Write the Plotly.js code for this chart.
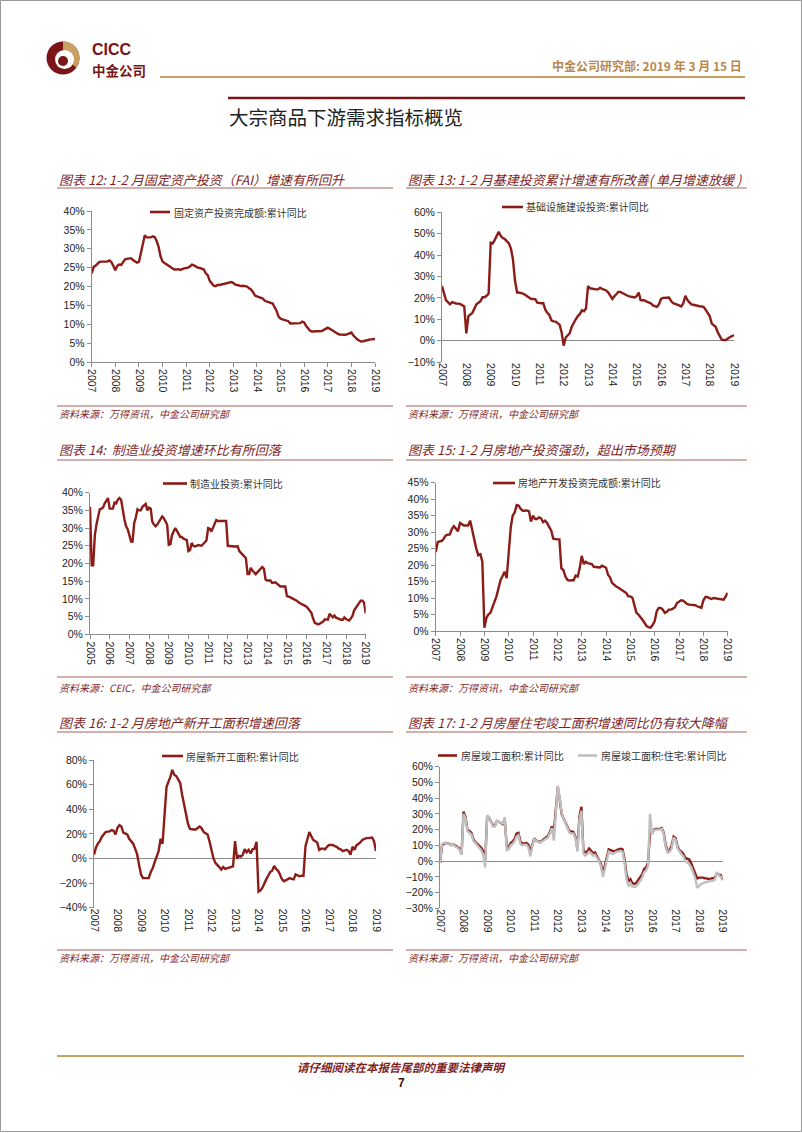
<!DOCTYPE html>
<html><head><meta charset="utf-8">
<script src="https://cdn.plot.ly/plotly-3.0.1.min.js"></script>
<style>html,body{margin:0;padding:0;background:#fff;}#page{width:802px;height:1133px;}</style>
</head><body><div id="page"></div>
<script>
// ---------- tick labels ----------
const years2007 = ['2007','2008','2009','2010','2011','2012','2013','2014','2015','2016','2017','2018','2019'];
const years2005 = ['2005','2006'].concat(years2007);

// ---------- 图表12 固定资产投资完成额:累计同比 ----------
const faiDates = ['2007-01','2007-02','2007-03','2007-04','2007-05','2007-06','2007-07','2007-08','2007-09','2007-10','2007-11','2007-12',
'2008-01','2008-02','2008-03','2008-04','2008-05','2008-06','2008-07','2008-08','2008-09','2008-10','2008-11','2008-12',
'2009-01','2009-02','2009-03','2009-04','2009-05','2009-06','2009-07','2009-08','2009-09','2009-10','2009-11','2009-12',
'2010-01','2010-02','2010-03','2010-04','2010-05','2010-06','2010-07','2010-08','2010-09','2010-10','2010-11','2010-12',
'2011-01','2011-02','2011-03','2011-04','2011-05','2011-06','2011-07','2011-08','2011-09','2011-10','2011-11','2011-12',
'2012-01','2012-02','2012-03','2012-04','2012-05','2012-06','2012-07','2012-08','2012-09','2012-10','2012-11','2012-12',
'2013-01','2013-02','2013-03','2013-04','2013-05','2013-06','2013-07','2013-08','2013-09','2013-10','2013-11','2013-12',
'2014-01','2014-02','2014-03','2014-04','2014-05','2014-06','2014-07','2014-08','2014-09','2014-10','2014-11','2014-12',
'2015-01','2015-02','2015-03','2015-04','2015-05','2015-06','2015-07','2015-08','2015-09','2015-10','2015-11','2015-12',
'2016-01','2016-02','2016-03','2016-04','2016-05','2016-06','2016-07','2016-08','2016-09','2016-10','2016-11','2016-12',
'2017-01','2017-02','2017-03','2017-04','2017-05','2017-06','2017-07','2017-08','2017-09','2017-10','2017-11','2017-12',
'2018-01','2018-02','2018-03','2018-04','2018-05','2018-06','2018-07','2018-08','2018-09','2018-10','2018-11','2018-12',
'2019-01'];
const faiValues = [23.5,25.2,25.5,26.0,26.5,26.6,26.6,26.6,26.6,26.9,26.5,25.5,
24.3,25.5,25.8,25.7,26.5,27.2,27.3,27.5,27.5,27.0,26.7,26.3,
26.5,28.8,30.5,33.6,33.0,32.9,33.0,33.3,33.1,32.1,30.5,28.0,
26.6,26.2,25.9,25.5,25.3,24.9,24.5,24.5,24.6,24.4,24.7,24.8,
24.9,25.0,25.3,25.8,25.6,25.2,25.0,24.9,24.8,24.5,23.5,23.0,
21.5,20.9,20.2,20.1,20.4,20.4,20.5,20.6,20.8,20.9,21.0,21.2,
20.9,20.5,20.4,20.2,20.1,20.2,20.1,20.0,19.5,19.2,18.5,17.6,
17.4,17.2,17.0,16.8,16.2,16.0,15.8,15.7,15.5,14.5,13.5,12.0,
11.5,11.3,11.2,11.0,10.8,10.2,10.2,10.2,10.1,10.1,10.3,10.7,
10.5,9.5,8.8,8.3,8.1,8.1,8.1,8.1,8.2,8.2,8.5,8.8,
9.1,8.8,8.5,8.2,7.7,7.5,7.3,7.2,7.2,7.2,7.4,7.5,
7.8,7.0,6.5,6.0,5.7,5.4,5.5,5.7,5.8,5.9,6.0,6.0,
6.1];

// ---------- 图表13 基础设施建设投资:累计同比 ----------
const infraDates = ['2007-01','2007-03','2007-05','2007-06','2007-08','2007-10','2007-12',
'2008-01','2008-02','2008-04','2008-06','2008-08','2008-09','2008-10','2008-11','2008-12',
'2009-01','2009-02','2009-03','2009-04','2009-05','2009-06','2009-07','2009-08','2009-09','2009-10','2009-11','2009-12',
'2010-01','2010-02','2010-03','2010-04','2010-05','2010-06','2010-07','2010-08','2010-09','2010-10','2010-11','2010-12',
'2011-01','2011-02','2011-03','2011-04','2011-05','2011-06','2011-07','2011-08','2011-09','2011-10','2011-11','2011-12',
'2012-01','2012-02','2012-03','2012-04','2012-05','2012-06','2012-07','2012-08','2012-09','2012-10','2012-11','2012-12',
'2013-01','2013-02','2013-03','2013-04','2013-05','2013-06','2013-07','2013-08','2013-09','2013-10','2013-11','2013-12',
'2014-01','2014-02','2014-03','2014-04','2014-05','2014-06','2014-07','2014-08','2014-09','2014-10','2014-11','2014-12',
'2015-01','2015-02','2015-03','2015-04','2015-05','2015-06','2015-07','2015-08','2015-09','2015-10','2015-11','2015-12',
'2016-01','2016-02','2016-03','2016-04','2016-05','2016-06','2016-07','2016-08','2016-09','2016-10','2016-11','2016-12',
'2017-01','2017-02','2017-03','2017-04','2017-05','2017-06','2017-07','2017-08','2017-09','2017-10','2017-11','2017-12',
'2018-01','2018-02','2018-03','2018-04','2018-05','2018-06','2018-07','2018-08','2018-09','2018-10','2018-11','2018-12',
'2019-01'];
const infraValues = [25.5,19,17,18,17.4,17.2,16,
3.4,11.5,13,17,18.5,20.3,20.3,21,22,
45.8,45.5,47,49,50.9,49,48,47.5,46.5,45.5,43,38,
28,22.5,22.5,22.3,22,21.5,20.7,20,19.5,19.5,19.4,17.8,
17.6,17.5,17.6,14.5,13,12,9.5,9,8.9,8.2,7.5,4,
-2.3,1.5,2.5,3.5,6.5,8.5,10,11.5,12.5,14.2,13.8,15,
25.5,24.5,24.3,24,24,24,24.8,24.2,23.8,23.5,22.5,21,
19.5,20.8,22,22.8,22.8,22.3,21.8,21,20.8,20.6,20.4,20.2,
20.8,22.5,19,18.9,18.8,18.2,17.8,17.5,16.5,16.2,15.8,17,
19.5,20,20,20.1,20.2,18.5,17.5,17.2,17,16.5,16,17.5,
21,19,18,17,16.8,16.5,16.2,16.1,16,15.8,14.5,13,
11.5,8,7.3,6.5,4,2,0.5,0.3,0.3,1,1.8,2.2,
2.5];

// ---------- 图表14 制造业投资:累计同比 ----------
const mfgDates = ['2005-01','2005-02','2005-03','2005-04','2005-05','2005-06','2005-07','2005-08','2005-09','2005-10','2005-11','2005-12',
'2006-01','2006-02','2006-03','2006-04','2006-05','2006-06','2006-07','2006-08','2006-09','2006-10','2006-11','2006-12',
'2007-01','2007-02','2007-03','2007-04','2007-05','2007-06','2007-07','2007-08','2007-09','2007-10','2007-11','2007-12',
'2008-01','2008-02','2008-03','2008-04','2008-05','2008-06','2008-07','2008-08','2008-09','2008-10','2008-11','2008-12',
'2009-01','2009-02','2009-03','2009-04','2009-05','2009-06','2009-07','2009-08','2009-09','2009-10','2009-11','2009-12',
'2010-01','2010-02','2010-03','2010-04','2010-05','2010-06','2010-07','2010-08','2010-09','2010-10','2010-11','2010-12',
'2011-01','2011-02','2011-03','2011-04','2011-05','2011-06','2011-07','2011-08','2011-09','2011-10','2011-11','2011-12',
'2012-01','2012-02','2012-03','2012-04','2012-05','2012-06','2012-07','2012-08','2012-09','2012-10','2012-11','2012-12',
'2013-01','2013-02','2013-03','2013-04','2013-05','2013-06','2013-07','2013-08','2013-09','2013-10','2013-11','2013-12',
'2014-01','2014-02','2014-03','2014-04','2014-05','2014-06','2014-07','2014-08','2014-09','2014-10','2014-11','2014-12',
'2015-01','2015-02','2015-03','2015-04','2015-05','2015-06','2015-07','2015-08','2015-09','2015-10','2015-11','2015-12',
'2016-01','2016-02','2016-03','2016-04','2016-05','2016-06','2016-07','2016-08','2016-09','2016-10','2016-11','2016-12',
'2017-01','2017-02','2017-03','2017-04','2017-05','2017-06','2017-07','2017-08','2017-09','2017-10','2017-11','2017-12',
'2018-01','2018-02','2018-03','2018-04','2018-05','2018-06','2018-07','2018-08','2018-09','2018-10','2018-11','2018-12',
'2019-01'];
const mfgValues = [36,19.5,19.5,28,31,33.5,35.3,35.5,35.8,37,37.8,38.5,
35.5,35.5,35.5,37.2,37,38,38.5,38,35,32.5,30.5,29.7,
28,26.2,26.2,31.5,33,35.3,35,35,36,36.3,36.8,35,
35.8,35.5,31.8,31,30.5,31,31.8,32.5,33.3,32.8,32,31,
25.3,25.5,28,29,30,29.2,28.2,27.5,27.5,27,26.8,26.6,
23.5,23.8,25.8,25,24.8,25,25.2,25.1,25,25.5,26,26.5,
30,29.8,29,30,31,32.3,32,32,32,31.8,31.8,32,
25,24.9,24.8,24.8,24.8,24.8,24.9,23.5,23,22.8,22,21.5,
17,17,18.8,18,17.5,17,17.5,18,18.5,19,18.5,15.5,
15.2,15.2,15.2,14.5,14.6,14.7,14.3,14,13.5,13.5,13.5,13.5,
10.8,10.7,10.5,10.2,10,9.7,9.5,9.1,8.7,8.5,8.3,8.1,
7.8,7.2,6.5,6,4.4,3.2,3,2.8,3,3.3,3.6,4.2,
4.2,4.2,5.8,5.2,4.8,5.3,4.7,4.5,4.2,4.1,4.1,4.8,
4.3,4.1,3.9,4.5,5.2,6.8,7.5,8,8.8,9.5,9.5,9.0,
5.9];

// ---------- 图表15 房地产开发投资完成额:累计同比 ----------
const reDates = faiDates;
const reValues = [24,27,27.2,27.3,28,29,29.2,29.3,31,31.8,31,30.3,
32.8,32.3,32,32,32,33.5,30.5,28.5,25,23,23.3,21,
1,4,5,5.5,7,9,10.5,13,15.5,16.7,18,16,
24,31.5,35,36,38.2,38,37,36.5,36.5,36.6,36.3,33.2,
35,34,34,34.5,34.2,33,33.5,32.8,31.5,30.5,28,27.8,
27.8,27.8,19,18.5,16.5,15.5,15.3,15.4,15.4,16.8,16.5,19,
22.8,20.3,21,20.6,20.5,20.3,19.5,19.5,19.4,19.3,19.8,19.6,
19.2,17,16.3,14.6,14,13.5,13.2,12.8,12.5,12,11.5,10.5,
10.5,10.1,7.5,5.6,5,4.3,3.4,2.5,1.5,1.2,1,1.8,
3,6,7,7,6.5,5.5,5.8,6.5,6.5,6.8,7.2,8.5,
9,9.3,9.2,8.6,8.2,8.0,8,7.9,7.8,7.5,7.3,7,
9.3,10.3,10.3,10,9.7,10,9.9,9.8,9.7,9.6,9.5,10.5,
11.6];

// ---------- 图表16 房屋新开工面积:累计同比 ----------
const startsDates = faiDates;
const startsValues = [3,9,12,14,17.5,19.5,21.5,21.8,22,23,22.5,19.5,
25,27,26,21,20,19.5,16,14,12,8,3.5,-5,
-13,-16,-16,-16,-16,-11,-8,-3,2,6,16,12,
35,58,62,66,72,68,67,64,61.5,52,43,36,
28,24,23.5,23.5,23.5,24.5,26,24.5,21.5,20.5,19.5,14,
6,0,-3.5,-5,-7,-9,-7,-8.5,-8,-7.5,-7,-6.5,
14,0,2,1.5,3,7.5,5,7,4,7.5,8,13.5,
-27,-26,-24,-20,-17,-14,-11,-10,-6,-8.5,-10,-13,
-17,-18.5,-17.5,-16.5,-16,-16.5,-17,-13,-14,-14.5,-14,-14,
10,17,21.5,18,15,14,13,7,8,8,7.5,9.5,
11,11,11,10,9.5,8,7.5,6,6.5,7,6,3,
9.5,7,10.5,11.5,13,15,16,16.5,16.5,16.8,17,14,
6];

// ---------- 图表17 房屋竣工面积 ----------
const compDates = faiDates;
const compTotal = [-1,10,11,11.5,11.2,10.8,10.2,10.5,9.5,9,8,4.5,
31.5,28,20,19,18,14,12,11,10,8.5,6.5,0,
28.5,27.5,25,23,22.5,25.5,25,24,23.5,26,9.5,9,
11.5,12.5,14,17.5,18,12.5,11,11.3,11.5,10.5,6.5,10,
14.5,13,12.5,12,13,14,15,16,18.5,22,18.5,35,
47,39,30,27,24.5,21.5,19,18.8,18.5,15.5,8,28,
34.5,7,5.5,6,8,6.5,5,5.5,3,1,-2,-8,
-3,2,7.5,7,6.5,6,7,7.5,7.8,7.5,1,-8,
-13,-11.5,-14,-14.5,-14,-12,-10,-8.5,-5,-4,-1,18,
18,20,20.5,20.5,20.5,21,18,10,6,7,10,15.5,
14.5,9,7,6,4.5,2,1.5,1,-1.5,-5,-8,-11,
-10.5,-10.5,-10.5,-11,-11,-11.5,-11.2,-11,-10.5,-8,-8.5,-9,
-12];
const compResidential = [-1,11,11.5,11.5,11,10.5,10,10.5,9,8.5,7,4,
30,27,19,18,17,13,11.5,10,8.5,7,4,-4,
29,28,25,22,22,25.5,25,24.5,24,28,7,7.5,
10,11,12.5,15.5,16.5,11,10,10.5,10.5,9,3,9,
14,13,12,11.5,12.5,13.5,14.5,15,17.5,21,13,33,
48,40,31,27,24,21,18,17.5,17.5,14.5,6,26,
32,5,3.5,4.5,6,5,3.5,4,2,0,-3.5,-10,
-5,0,6,5,4.5,5,6,6,6.5,6,-1,-11,
-16,-14,-16,-16.5,-16,-14.5,-12.5,-10.5,-7,-6,-3,30,
17,19.5,20,20,20,20.5,17,8.5,5.5,6,8,15,
13.5,8,6,4.5,3,0,-1,-2,-4,-7.5,-11,-17,
-15.5,-14.5,-14,-13.5,-13,-13,-12.5,-12.5,-12,-7,-9,-10,
-12];

// ---------- page geometry helpers ----------
const W = 802, H = 1133;
const X = p => p / W, Y = p => 1 - p / H;
const RED = '#8B1C17', GRAY = '#BFBFBF', AXIS = '#8C8C8C';
const TITLE_RED = '#7E1E1E', RULE = '#A6625E', TAN = '#C9A063', DARK = '#7B1416';
const NUMFONT = 'Liberation Sans, Arial, sans-serif';
const CJK = 'Noto Sans CJK SC, sans-serif';

const charts = [
  {n:1, x0:91.7, x1:375, yt:211, yb:362, yr:[0,40], dt:5, years:years2007, zero:false},
  {n:2, x0:442, x1:734, yt:212.3, yb:362.1, yr:[-10,60], dt:10, years:years2007, zero:true},
  {n:3, x0:90, x1:365.7, yt:492.7, yb:634.3, yr:[0,40], dt:5, years:years2005, zero:false},
  {n:4, x0:435.7, x1:727.7, yt:482.7, yb:631, yr:[0,45], dt:5, years:years2007, zero:false},
  {n:5, x0:94, x1:376, yt:760, yb:907.7, yr:[-40,80], dt:20, years:years2007, zero:true},
  {n:6, x0:440, x1:722.7, yt:766.7, yb:908.3, yr:[-30,60], dt:10, years:years2007, zero:true}
];

const layout = {
  width: W, height: H, margin:{l:0,r:0,t:0,b:0},
  paper_bgcolor:'#fff', plot_bgcolor:'#fff', showlegend:false,
  shapes:[], annotations:[]
};

charts.forEach(c => {
  const xa = c.n === 1 ? 'xaxis' : 'xaxis' + c.n;
  const ya = c.n === 1 ? 'yaxis' : 'yaxis' + c.n;
  layout[xa] = {
    type:'date', domain:[X(c.x0), X(c.x1)],
    range:[c.years[0] + '-01-01', c.years[c.years.length-1] + '-01-01'],
    anchor: c.n === 1 ? 'y' : 'y' + c.n,
    tickmode:'array', tickvals: c.years.map(y => y + '-01-01'), ticktext: c.years,
    tickangle:90, ticks: c.zero ? '' : 'outside', ticklen:4, tickcolor:AXIS,
    showline: !c.zero, linecolor:AXIS, linewidth:1,
    showgrid:false, zeroline:false, fixedrange:true,
    tickfont:{family:NUMFONT, size:10.5, color:'#222'}
  };
  layout[ya] = {
    domain:[Y(c.yb), Y(c.yt)], range:c.yr, tick0:c.yr[0], dtick:c.dt, ticksuffix:'%',
    anchor: c.n === 1 ? 'x' : 'x' + c.n,
    showline:true, linecolor:AXIS, linewidth:1, ticks:'outside', ticklen:4, tickcolor:AXIS,
    showgrid:false, zeroline:c.zero, zerolinecolor:AXIS, zerolinewidth:1, fixedrange:true,
    tickfont:{family:NUMFONT, size:10.5, color:'#222'}
  };
});

function trace(n, x, y, color) {
  return {type:'scatter', mode:'lines', x:x, y:y,
    xaxis: n === 1 ? 'x' : 'x' + n, yaxis: n === 1 ? 'y' : 'y' + n,
    line:{color:color, width:2.4}, hoverinfo:'skip'};
}
const data = [
  trace(1, faiDates, faiValues, RED),
  trace(2, infraDates, infraValues, RED),
  trace(3, mfgDates, mfgValues, RED),
  trace(4, reDates, reValues, RED),
  trace(5, startsDates, startsValues, RED),
  trace(6, compDates, compTotal, RED),
  trace(6, compDates, compResidential, GRAY)
];

// ---------- text helpers ----------
function text(t, x, y, font, xanchor) {
  layout.annotations.push({text:t, x:X(x), y:Y(y), xref:'paper', yref:'paper',
    xanchor: xanchor || 'left', yanchor:'middle', showarrow:false, font:font, borderpad:0});
}
function hline(x0, x1, y, color, width) {
  layout.shapes.push({type:'line', xref:'paper', yref:'paper', x0:X(x0), x1:X(x1), y0:Y(y), y1:Y(y),
    line:{color:color, width:width}});
}

// ---------- panel titles / rules / sources / legends ----------
const titleFont = {family:CJK, size:13, color:TITLE_RED, style:'italic'};
const srcFont = {family:CJK, size:10, color:TITLE_RED, style:'italic'};
const legFont = {family:CJK, size:10, color:'#333'};

const panels = [
  {tx:58, ty:179, rule:188, l:57, r:393, sy:406, st:413, src:'资料来源：万得资讯，中金公司研究部',
   title:'图表 12: 1-2 月固定资产投资（FAI）增速有所回升'},
  {tx:407, ty:179, rule:188, l:406, r:747, sy:406, st:413, src:'资料来源：万得资讯，中金公司研究部',
   title:'图表 13: 1-2 月基建投资累计增速有所改善( 单月增速放缓 )'},
  {tx:58, ty:450, rule:460, l:57, r:393, sy:677, st:687, src:'资料来源：CEIC，中金公司研究部',
   title:'图表 14:  制造业投资增速环比有所回落'},
  {tx:407, ty:450, rule:460, l:406, r:747, sy:677, st:687, src:'资料来源：万得资讯，中金公司研究部',
   title:'图表 15: 1-2 月房地产投资强劲，超出市场预期'},
  {tx:58, ty:722, rule:732, l:57, r:393, sy:950, st:957, src:'资料来源：万得资讯，中金公司研究部',
   title:'图表 16: 1-2 月房地产新开工面积增速回落'},
  {tx:407, ty:722, rule:732, l:406, r:747, sy:950, st:957, src:'资料来源：万得资讯，中金公司研究部',
   title:'图表 17: 1-2 月房屋住宅竣工面积增速同比仍有较大降幅'}
];
panels.forEach(p => {
  text(p.title, p.tx, p.ty, titleFont);
  hline(p.l, p.r, p.rule, RULE, 1.2);
  hline(p.l, p.r, p.sy, RULE, 1.2);
  text(p.src, p.tx, p.st, srcFont);
});

const legends = [
  {x0:150, x1:170, y:212, tx:173, t:'固定资产投资完成额:累计同比', c:RED},
  {x0:502, x1:523, y:207, tx:525, t:'基础设施建设投资:累计同比', c:RED},
  {x0:163, x1:187, y:483.5, tx:189, t:'制造业投资:累计同比', c:RED},
  {x0:493, x1:515, y:483, tx:517, t:'房地产开发投资完成额:累计同比', c:RED},
  {x0:162, x1:183, y:756, tx:185, t:'房屋新开工面积:累计同比', c:RED},
  {x0:438, x1:457, y:755.5, tx:460, t:'房屋竣工面积:累计同比', c:RED},
  {x0:578, x1:597, y:755.5, tx:600, t:'房屋竣工面积:住宅:累计同比', c:GRAY}
];
legends.forEach(g => {
  hline(g.x0, g.x1, g.y, g.c, 2.6);
  text(g.t, g.tx, g.y, legFont);
});

// ---------- page header ----------
hline(160, 745, 77, TAN, 2);
hline(228, 745, 98, DARK, 2.5);
text('中金公司研究部: 2019 年 3 月 15 日', 743, 66, {family:CJK, size:12, color:'#B8874C', weight:700}, 'right');
text('大宗商品下游需求指标概览', 228, 116, {family:CJK, size:19.5, color:'#222'});
text('CICC', 91, 49, {family:NUMFONT, size:16, color:DARK, weight:700});
text('中金公司', 91, 70, {family:CJK, size:13.5, color:DARK, weight:700});

// logo
const cx = 63, cy = 58, r = 16.5;
layout.shapes.push({type:'circle', xref:'paper', yref:'paper', x0:X(cx-r), x1:X(cx+r), y0:Y(cy+r), y1:Y(cy-r),
  fillcolor:DARK, line:{width:0}});
let wedge = 'M ' + X(cx) + ',' + Y(cy);
for (let a = -90; a <= 35; a += 5) {
  const rad = a * Math.PI / 180;
  wedge += ' L ' + X(cx + r * Math.cos(rad)) + ',' + Y(cy + r * Math.sin(rad));
}
wedge += ' Z';
layout.shapes.push({type:'path', xref:'paper', yref:'paper', path:wedge, fillcolor:'#C9A063', line:{width:0}});
layout.shapes.push({type:'circle', xref:'paper', yref:'paper', x0:X(cx-8), x1:X(cx+11), y0:Y(cy+11), y1:Y(cy-8),
  fillcolor:'#fff', line:{width:0}});
layout.shapes.push({type:'circle', xref:'paper', yref:'paper', x0:X(cx-5), x1:X(cx+5), y0:Y(cy+8), y1:Y(cy-2),
  fillcolor:DARK, line:{width:0}});

// ---------- footer ----------
hline(57, 744, 1056, TAN, 2);
text('请仔细阅读在本报告尾部的重要法律声明', 401, 1067, {family:CJK, size:11.5, color:TITLE_RED, style:'italic', weight:700}, 'center');
text('7', 401, 1083, {family:NUMFONT, size:12, color:'#3a1010', weight:700}, 'center');

// page frame
layout.shapes.push({type:'rect', xref:'paper', yref:'paper', x0:X(0.5), x1:X(801.5), y0:Y(1131.5), y1:Y(0.5),
  line:{color:'#9a9a9a', width:1}, fillcolor:'rgba(0,0,0,0)'});

Plotly.newPlot('page', data, layout, {staticPlot:true, displayModeBar:false});
</script></body></html>
